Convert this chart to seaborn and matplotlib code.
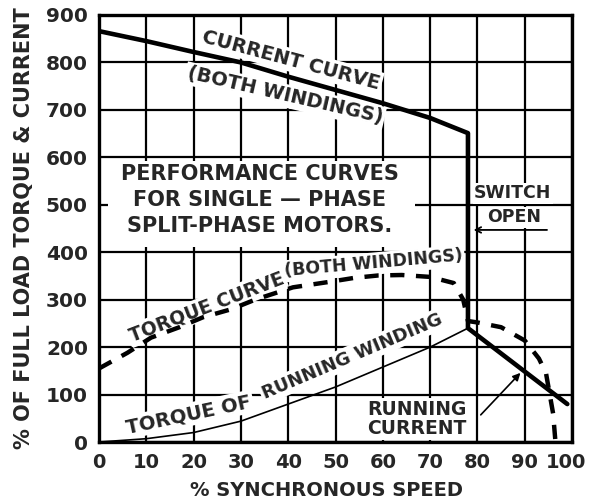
import matplotlib
matplotlib.use("Agg")
import matplotlib.pyplot as plt
from matplotlib.patches import Rectangle
from matplotlib.transforms import ScaledTranslation
import seaborn as sns
import pandas as pd

# Current drawn by both windings, then the drop at the switch and running current
current_speed = [0, 10, 20, 30, 40, 50, 60, 70, 78, 78, 99]
current_pct = [866, 845, 822, 800, 770, 742, 714, 683, 651, 240, 80]

# Torque with both windings, continuing on the running winding after the switch opens
torque_speed = [0, 6, 11, 17, 22, 28, 33, 41, 49, 54, 59, 64, 70, 75, 77, 78,
                80, 85, 90, 93, 94.5, 96, 96.5]
torque_pct = [155, 188, 220, 242, 263, 280, 300, 326, 338, 346, 351, 352, 348, 335,
              300, 255, 252, 242, 214, 176, 145, 60, 0]

# Torque of the running winding alone
run_speed = [0, 10, 20, 30, 40, 50, 60, 70, 78]
run_torque = [0, 7, 20, 44, 80, 116, 158, 200, 240]

x_ticks = list(range(0, 101, 10))
y_ticks = list(range(0, 901, 100))

sns.set_style("white")
plt.rcParams["font.family"] = ["DejaVu Sans"]
plt.rcParams["font.weight"] = "bold"

fig = plt.figure(figsize=(5.91, 4.98), dpi=100)
ax = fig.add_axes([0.1675, 0.1124, 0.8004, 0.8575])

cur_df = pd.DataFrame({"speed": current_speed, "pct": current_pct})
tor_df = pd.DataFrame({"speed": torque_speed, "pct": torque_pct,
                       "curve": "torque"})
run_df = pd.DataFrame({"speed": run_speed, "pct": run_torque})

sns.lineplot(data=cur_df, x="speed", y="pct", sort=False, estimator=None, ax=ax,
             color="black", lw=3.3, zorder=3)
sns.lineplot(data=tor_df, x="speed", y="pct", style="curve",
             dashes={"torque": (3.2, 2.6)}, sort=False, estimator=None, ax=ax,
             color="black", lw=3.2, zorder=3.2, legend=False)
sns.lineplot(data=run_df, x="speed", y="pct", sort=False, estimator=None, ax=ax,
             color="black", lw=1.2, zorder=3)

ax.set_xlim(0, 100)
ax.set_ylim(0, 900)
ax.set_xticks(x_ticks)
ax.set_yticks(y_ticks)
ax.set_xticklabels([str(v) for v in x_ticks], fontsize=14, fontweight="heavy")
ax.set_yticklabels([str(v) for v in y_ticks], fontsize=14.5, fontweight="heavy")
ax.tick_params(length=0, pad=8)
# keep the last speed label inside the figure edge
last = ax.get_xticklabels()[-1]
last.set_transform(last.get_transform()
                   + ScaledTranslation(-4 / 72, 0, fig.dpi_scale_trans))
ax.set_xlabel("")
ax.set_ylabel("% OF FULL LOAD TORQUE & CURRENT", fontsize=15, fontweight="heavy")
ax.yaxis.set_label_coords(-0.138, 0.5)
ax.set_axisbelow(True)
ax.grid(True, color="black", lw=1.6)
for s in ax.spines.values():
    s.set_color("black")
    s.set_linewidth(2.4)

fig.text(0.553, 2.5 / 498, "% SYNCHRONOUS SPEED", ha="center", va="baseline",
         fontsize=14, fontweight="heavy")

# Title block over the grid
ax.add_patch(Rectangle((2, 412), 64.8, 180, facecolor="white", edgecolor="none",
                       zorder=1.5))
ax.text(34, 510, "PERFORMANCE CURVES\nFOR SINGLE \u2014 PHASE\nSPLIT-PHASE MOTORS.",
        ha="center", va="center", fontsize=15, fontweight="heavy",
        linespacing=1.4, zorder=1.6)

box = dict(facecolor="white", edgecolor="none", pad=1.5)
ax.text(40.6, 805, "CURRENT CURVE", rotation=-15, ha="center", va="center",
        fontsize=14, fontweight="heavy", bbox=box, zorder=1.8)
ax.text(39.3, 730, "(BOTH WINDINGS)", rotation=-13, ha="center", va="center",
        fontsize=14, fontweight="heavy", bbox=box, zorder=1.8)
ax.text(22.8, 284, "TORQUE CURVE", rotation=21, ha="center", va="center",
        fontsize=13.5, fontweight="heavy", bbox=box, zorder=1.8)
ax.text(58, 376, "(BOTH WINDINGS)", rotation=5, ha="center", va="center",
        fontsize=12.5, fontweight="heavy", bbox=box, zorder=1.8)
ax.text(19, 58, "TORQUE OF", rotation=12, ha="center", va="center",
        fontsize=14, fontweight="heavy", bbox=box, zorder=1.8)
ax.text(53.5, 181, "RUNNING WINDING", rotation=23, ha="center", va="center",
        fontsize=13, fontweight="heavy", bbox=box, zorder=1.8)
ax.text(67.2, 49, "RUNNING\nCURRENT", ha="center", va="center", fontsize=13.5,
        fontweight="heavy", linespacing=1.0, bbox=box, zorder=1.8)
ax.text(87.5, 505, "SWITCH", ha="center", va="bottom", fontsize=12.5,
        fontweight="heavy", bbox=dict(facecolor="white", edgecolor="none", pad=1),
        zorder=1.8)
ax.text(87.8, 455, "OPEN", ha="center", va="bottom", fontsize=12.5,
        fontweight="heavy", bbox=dict(facecolor="white", edgecolor="none", pad=1),
        zorder=1.8)

# Pointers
ax.annotate("", xy=(78.6, 447), xytext=(95.3, 447),
            arrowprops=dict(arrowstyle="->", color="black", lw=1.3,
                            mutation_scale=10), zorder=4)
ax.annotate("", xy=(89.5, 150), xytext=(80.3, 53),
            arrowprops=dict(arrowstyle="-|>", color="black", lw=1.2,
                            mutation_scale=11), zorder=4)

fig.savefig("out.png", dpi=100)
